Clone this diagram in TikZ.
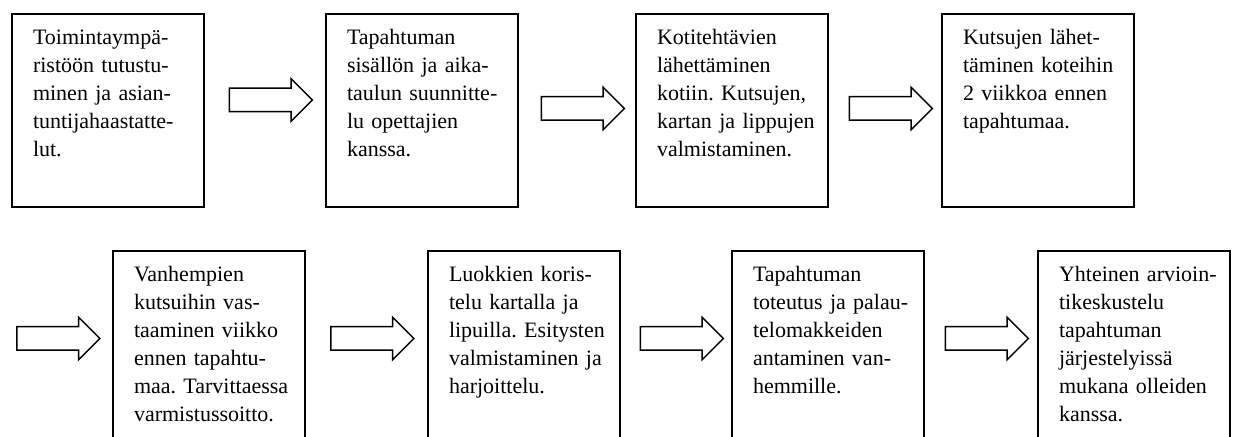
\documentclass[tikz,border=0pt]{standalone}
\usepackage{fontspec}
\setmainfont{Liberation Serif}
\usepackage{tikz}
\newcommand{\boxwidth}{96pt}
\newcommand{\textinset}{10.5pt}
\usetikzlibrary{calc,positioning,shapes.arrows}
\frenchspacing
\hyphenpenalty=10000
\exhyphenpenalty=10000
\tikzset{
  font=\fontsize{11}{14}\selectfont,
  phase/.style={draw,line width=1pt,shape=rectangle,anchor=north west,minimum width=\boxwidth,text width=75pt,align=left,inner xsep=\textinset,inner ysep=0pt,text height=15.15pt,text depth=81.35pt},
  flow/.style={draw,line width=0.75pt,shape=single arrow,single arrow head extend=4.75pt,inner xsep=0pt,inner ysep=5.5pt,minimum height=41.5pt},
}

\begin{document}
\begin{tikzpicture}[x=0.5pt,y=-0.5pt]
  \useasboundingbox (0,0) rectangle (1235,437);
  \clip (0,0) rectangle (1235,437);
  % first row
  \node (b1) [phase] at (11,13) {Toimintaympä-\\ ristöön~tutustu-\\ minen~ja~asian-\\ tuntijahaastatte-\\ lut.};
  \node (b2) [phase] at (325,13) {Tapahtuman\\ sisällön~ja~aika-\\ taulun~suunnitte-\\ lu~opettajien\\ kanssa.};
  \node (b3) [phase] at (635,13) {Kotitehtävien\\ lähettäminen\\ kotiin.~Kutsujen,\\ kartan~ja~lippujen\\ valmistaminen.};
  \node (b4) [phase] at (941,13) {Kutsujen~lähet-\\ täminen~koteihin\\ 2~viikkoa~ennen\\ tapahtumaa.};
  % second row
  \node (b5) [phase] at (112,250) {Vanhempien\\ kutsuihin~vas-\\ taaminen~viikko\\ ennen~tapahtu-\\ maa.~Tarvittaessa\\ varmistussoitto.};
  \node (b6) [phase] at (427,250) {Luokkien~koris-\\ telu~kartalla~ja\\ lipuilla.~Esitysten\\ valmistaminen~ja\\ harjoittelu.};
  \node (b7) [phase] at (731,250) {Tapahtuman\\ toteutus~ja~palau-\\ telomakkeiden\\ antaminen~van-\\ hemmille.};
  \node (b8) [phase] at (1037,250) {Yhteinen~arvioin-\\ tikeskustelu\\ tapahtuman\\ järjestelyissä\\ mukana~olleiden\\ kanssa.};
  % arrows between the boxes
  \node (a1) [flow] at ($(b1.east)!0.5!(b2.west)+(0,-10.5)$) {};
  \node (a2) [flow] at ($(b2.east)!0.5!(b3.west)+(0,-2)$) {};
  \node (a3) [flow] at ($(b3.east)!0.5!(b4.west)+(0,-2)$) {};
  \node (a4) [flow] at ($(b5.west)+(-59.5,-9)$) {};
  \node (a5) [flow] at ($(b5.east)!0.5!(b6.west)+(0,-9)$) {};
  \node (a6) [flow] at ($(b6.east)!0.5!(b7.west)+(0,-9)$) {};
  \node (a7) [flow] at ($(b7.east)!0.5!(b8.west)+(0,-9)$) {};
\end{tikzpicture}
\end{document}
